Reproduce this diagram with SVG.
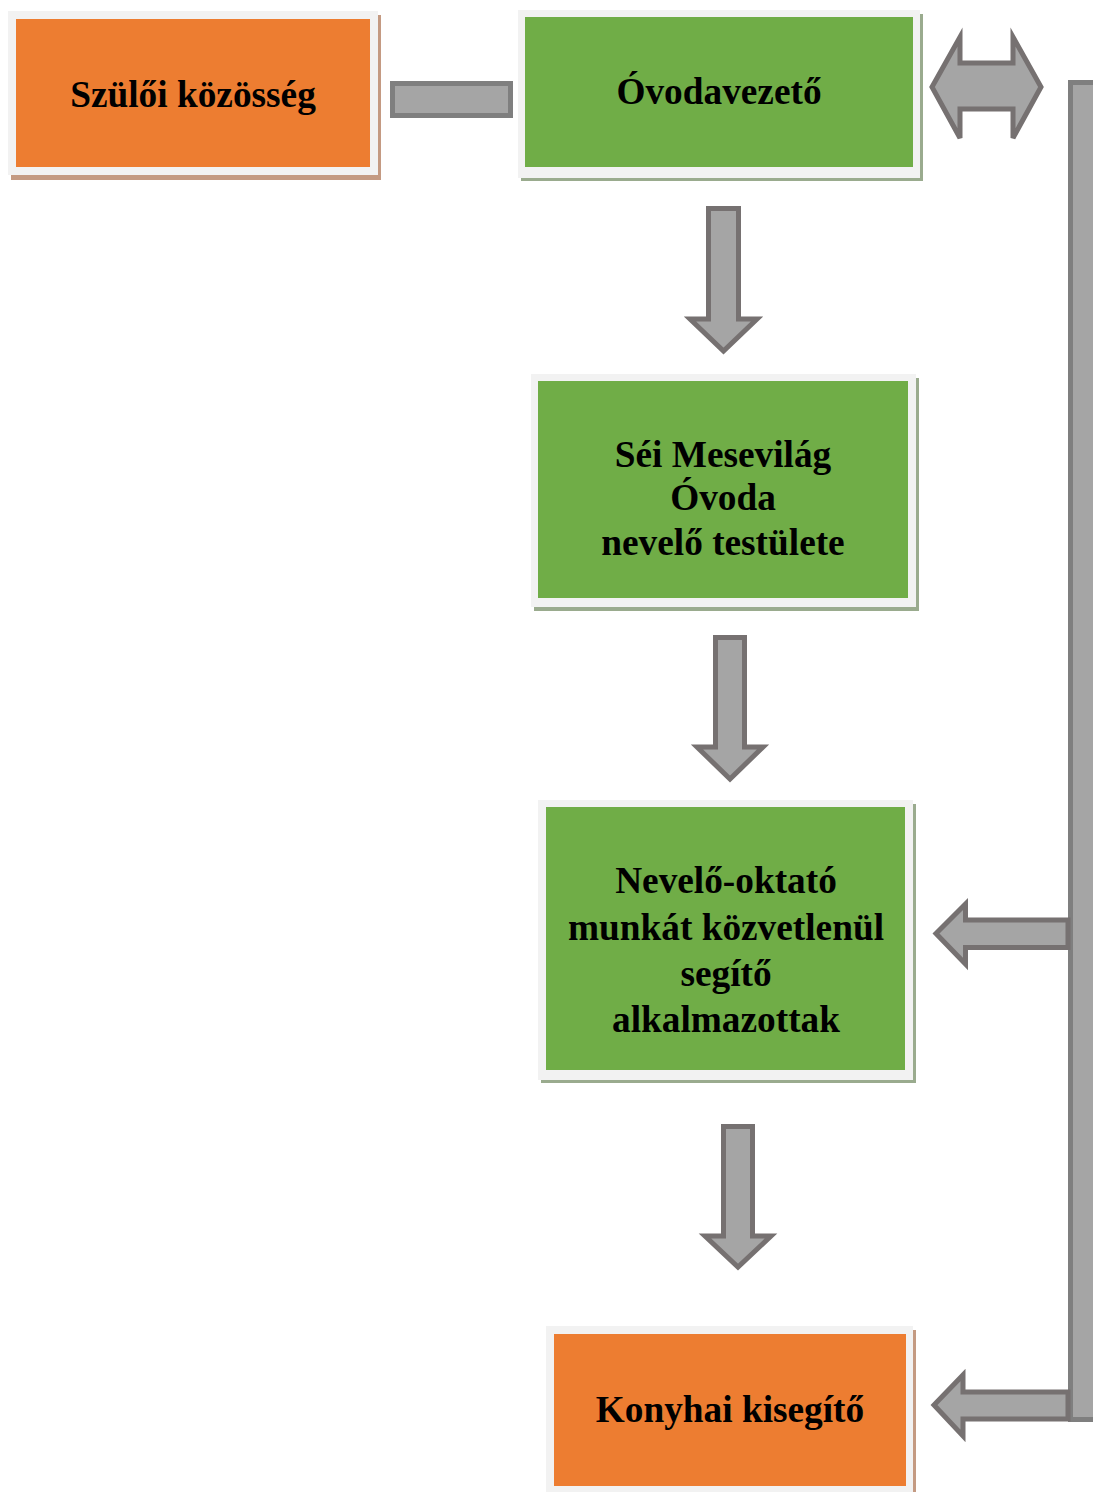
<svg xmlns="http://www.w3.org/2000/svg" width="1093" height="1492" viewBox="0 0 1093 1492">
<style>
.frame{fill:#f2f2f2}
.org{fill:#ed7d31}
.grn{fill:#70ad47}
.shO{fill:#c49a82}
.shG{fill:#9aab8e}
.arr{fill:#a5a5a5;stroke:#767171;stroke-width:5;stroke-linejoin:miter}
.bar{fill:#a5a5a5;stroke:#7f7f7f;stroke-width:5}
.t{font-family:"Liberation Serif","Times New Roman",serif;font-weight:bold;font-size:37.3px;fill:#000;text-anchor:middle}
</style>
<rect width="1093" height="1492" fill="#ffffff"/>
<g id="connectors">
<rect class="bar" x="392.5" y="83.5" width="118" height="32"/>
<polygon class="arr" points="932,87 960,37 960,63 1013,63 1013,37 1041,87 1013,138 1013,109 960,109 960,138"/>
<rect class="bar" x="1070.5" y="82.5" width="30" height="1337"/>
<polygon class="arr" points="708.5,208.5 738.5,208.5 738.5,319 757,319 723.5,351 690,319 708.5,319"/>
<polygon class="arr" points="715.5,637.5 744.5,637.5 744.5,747 763,747 730,779 697,747 715.5,747"/>
<polygon class="arr" points="723.5,1126.5 752.5,1126.5 752.5,1236 771,1236 738,1267 705,1236 723.5,1236"/>
<polygon class="arr" points="1068,920 965.5,920 965.5,904 936,933.5 965.5,964 965.5,947.5 1068,947.5"/>
<polygon class="arr" points="1068,1392 963,1392 963,1375 934,1405 963,1436 963,1419 1068,1419"/>
</g>
<g id="szuloi">
<rect class="shO" x="11" y="15" width="370" height="165"/>
<rect class="frame" x="8" y="11" width="370" height="164"/>
<rect class="org" x="16" y="19" width="354" height="148"/>
<text class="t" x="193" y="107">Szülői közösség</text>
</g>
<g id="ovodavezeto">
<rect class="shG" x="521" y="14" width="402" height="167"/>
<rect class="frame" x="518" y="10" width="402" height="168"/>
<rect class="grn" x="525" y="17" width="388" height="150"/>
<text class="t" x="719" y="104">Óvodavezető</text>
</g>
<g id="testulet">
<rect class="shG" x="534" y="378" width="385" height="233"/>
<rect class="frame" x="531" y="374" width="385" height="233"/>
<rect class="grn" x="538" y="381" width="370" height="217"/>
<text class="t" x="723" y="467">Séi Mesevilág</text>
<text class="t" x="723" y="510">Óvoda</text>
<text class="t" x="723" y="555">nevelő testülete</text>
</g>
<g id="segito">
<rect class="shG" x="541" y="804" width="375" height="279"/>
<rect class="frame" x="538" y="800" width="375" height="280"/>
<rect class="grn" x="546" y="807" width="359" height="263"/>
<text class="t" x="726" y="893">Nevelő-oktató</text>
<text class="t" x="726" y="940">munkát közvetlenül</text>
<text class="t" x="726" y="986">segítő</text>
<text class="t" x="726" y="1032">alkalmazottak</text>
</g>
<g id="konyhai">
<rect class="shO" x="549" y="1330" width="367" height="170"/>
<rect class="frame" x="546" y="1326" width="367" height="170"/>
<rect class="org" x="554" y="1334" width="352" height="152"/>
<text class="t" x="730" y="1422">Konyhai kisegítő</text>
</g>
</svg>
